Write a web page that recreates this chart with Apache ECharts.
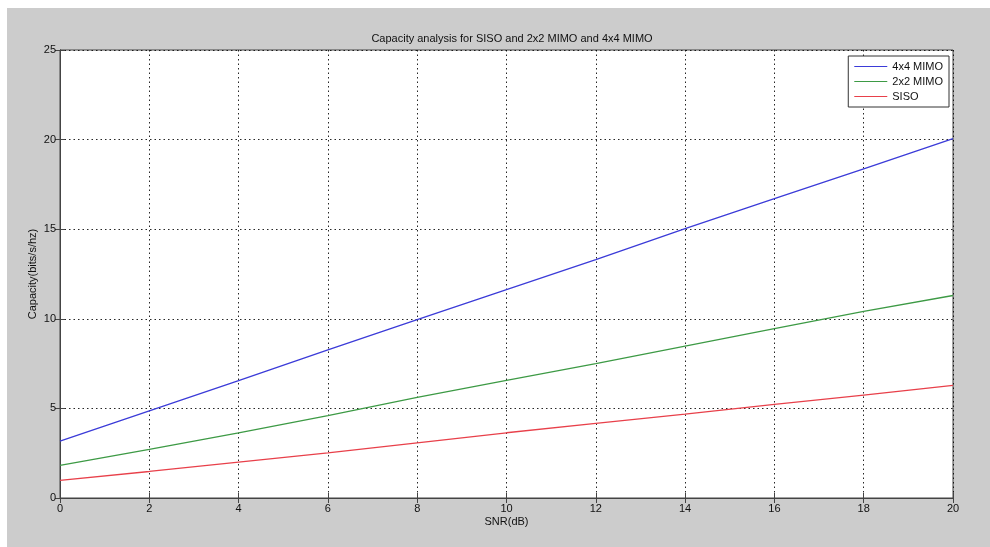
<!DOCTYPE html>
<html>
<head>
<meta charset="utf-8">
<script src="https://cdn.jsdelivr.net/npm/echarts@6/dist/echarts.min.js"></script>
<style>
html,body{margin:0;padding:0;background:#ffffff;}
#main{width:990px;height:547px;}
</style>
</head>
<body>
<div id="main"></div>
<script>
var snr = [0, 2, 4, 6, 8, 10, 12, 14, 16, 18, 20];
var mimo4 = [3.17, 4.86, 6.55, 8.27, 9.95, 11.63, 13.3, 15.03, 16.7, 18.36, 20.05];
var mimo2 = [1.82, 2.71, 3.64, 4.6, 5.62, 6.56, 7.5, 8.48, 9.45, 10.42, 11.3];
var siso = [0.98, 1.48, 2.0, 2.52, 3.08, 3.64, 4.16, 4.68, 5.22, 5.74, 6.28];
var xTicks = [0, 2, 4, 6, 8, 10, 12, 14, 16, 18, 20];
var yTicks = [0, 5, 10, 15, 20, 25];

function pairs(ys) { return snr.map(function (x, i) { return [x, ys[i]]; }); }

var chart = echarts.init(document.getElementById('main'));
var font = 'Liberation Sans, Arial, sans-serif';
var gridLine = { show: true, lineStyle: { color: '#000000', type: [1.5, 3], width: 1, opacity: 0.85 } };
var lbl = { color: '#111', fontSize: 11, fontFamily: font };

chart.setOption({
  backgroundColor: 'transparent',
  animation: false,
  graphic: [{ type: 'rect', z: -10, silent: true, shape: { x: 7, y: 8, width: 983, height: 539 }, style: { fill: '#cccccc' } }],
  title: {
    text: 'Capacity analysis for SISO and 2x2 MIMO and 4x4 MIMO',
    left: 507, top: 28, textAlign: 'center',
    textStyle: { fontSize: 11, fontWeight: 'normal', color: '#111', fontFamily: font }
  },
  legend: {
    data: ['4x4 MIMO', '2x2 MIMO', 'SISO'],
    orient: 'vertical', right: 41, top: 56,
    icon: 'path://M0,0 H33 V1 H0 Z',
    backgroundColor: '#ffffff', borderColor: '#333', borderWidth: 1,
    padding: [4, 6, 4, 6], itemGap: 2, itemWidth: 33, itemHeight: 1.3,
    textStyle: { fontSize: 11, color: '#111', fontFamily: font, lineHeight: 13 }
  },
  grid: { left: 60, right: 37, top: 50, bottom: 49, backgroundColor: '#ffffff', show: true, borderColor: '#444', borderWidth: 1 },
  xAxis: [{
    type: 'value', min: 0, max: 20, interval: 2,
    name: 'SNR(dB)', nameLocation: 'middle', nameGap: 18, nameMoveOverlap: false,
    nameTextStyle: { fontSize: 11, color: '#111', fontFamily: font },
    axisLine: { show: true, onZero: false, lineStyle: { color: '#444' } },
    axisTick: { show: true, inside: true, length: 5, lineStyle: { color: '#444' } },
    axisLabel: Object.assign({ margin: 5, formatter: function (v) { return xTicks.indexOf(v) >= 0 ? String(v) : ''; } }, lbl),
    splitLine: gridLine
  }, {
    type: 'value', min: 0, max: 20, interval: 2, position: 'top',
    axisLine: { show: true, lineStyle: { color: '#444' } },
    axisTick: { show: true, inside: true, length: 5, lineStyle: { color: '#444' } },
    axisLabel: { show: false }, splitLine: { show: false }
  }],
  yAxis: [{
    type: 'value', min: 0, max: 25, interval: 5,
    name: 'Capacity(bits/s/hz)', nameLocation: 'middle', nameGap: 22, nameRotate: 90, nameMoveOverlap: false,
    nameTextStyle: { fontSize: 11, color: '#111', fontFamily: font },
    axisLine: { show: true, lineStyle: { color: '#444' } },
    axisTick: { show: true, inside: true, length: 5, lineStyle: { color: '#444' } },
    axisLabel: Object.assign({ margin: 4, formatter: function (v) { return yTicks.indexOf(v) >= 0 ? String(v) : ''; } }, lbl),
    splitLine: gridLine
  }, {
    type: 'value', min: 0, max: 25, interval: 5, position: 'right',
    axisLine: { show: true, lineStyle: { color: '#444' } },
    axisTick: { show: true, inside: true, length: 5, lineStyle: { color: '#444' } },
    axisLabel: { show: false }, splitLine: { show: false }
  }],
  series: [
    { name: '4x4 MIMO', type: 'line', data: pairs(mimo4), symbol: 'none', color: '#3b3bd8', lineStyle: { width: 1.3 } },
    { name: '2x2 MIMO', type: 'line', data: pairs(mimo2), symbol: 'none', color: '#3d9a45', lineStyle: { width: 1.3 } },
    { name: 'SISO', type: 'line', data: pairs(siso), symbol: 'none', color: '#e8404a', lineStyle: { width: 1.3 } }
  ]
});
</script>
</body>
</html>
